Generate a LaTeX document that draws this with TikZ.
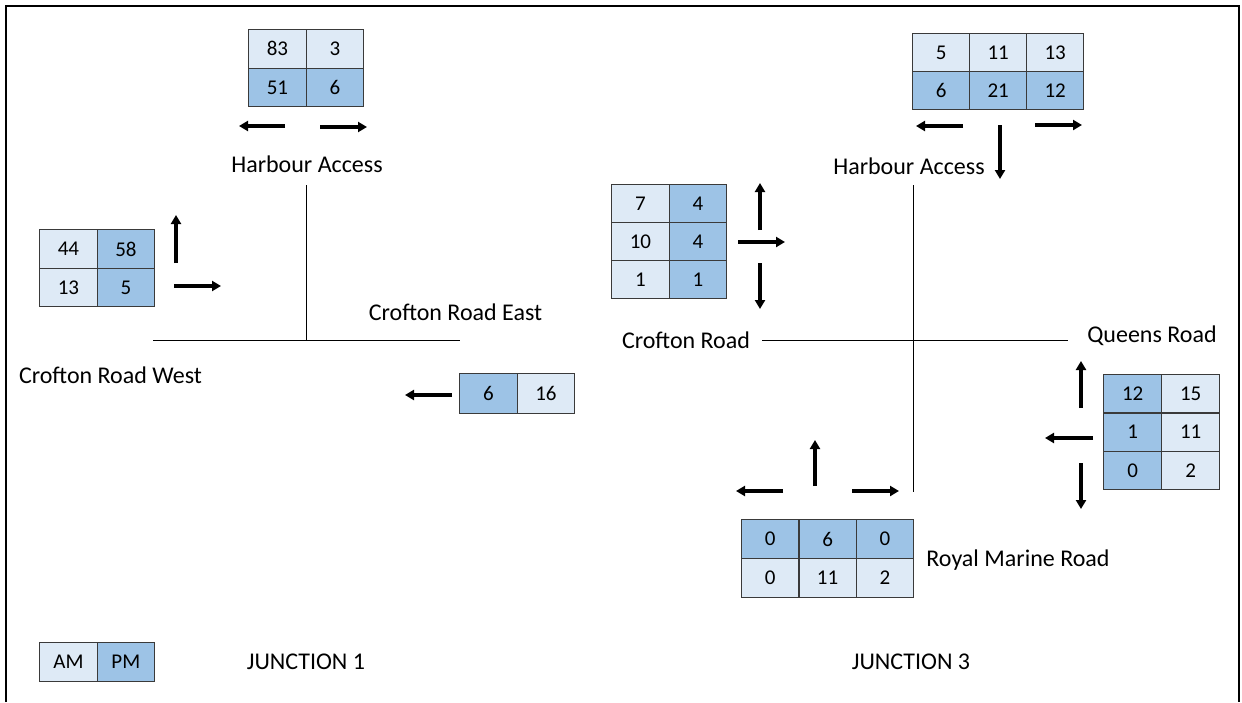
\documentclass[tikz,border=0pt]{standalone}
\usepackage{fontspec}
\setmainfont{Carlito}
\usetikzlibrary{arrows.meta}
\definecolor{amfill}{HTML}{DEEAF6}
\definecolor{pmfill}{HTML}{9DC3E6}
\definecolor{gridline}{HTML}{3A3A3A}
\begin{document}
\begin{tikzpicture}[x=1pt,y=-1pt,
  cellbase/.style={draw=gridline, line width=1.3pt, anchor=north west,
    minimum width=57.5pt, minimum height=38.5pt, inner sep=0pt,
    font=\fontsize{21}{25}\selectfont},
  am/.style={cellbase, fill=amfill},
  pm/.style={cellbase, fill=pmfill},
  road/.style={line width=1pt},
  flow/.style={line width=3.2pt, -{Triangle[length=9pt,width=10pt]}},
  lbl/.style={font=\fontsize{24}{29}\selectfont, inner sep=0pt}]
\useasboundingbox (0,0) rectangle (1242,702);
% outer frame, open at the bottom
\draw[line width=2pt] (6,702) -- (6,6) -- (1239,6) -- (1239,702);

% ---------------- Junction 1 ----------------
% Harbour Access counts
\node[am] (ha1a) at (248,29) {83};
\node[am] (ha1b) at (305.5,29) {3};
\node[pm] (ha1c) at (248,67.5) {51};
\node[pm] (ha1d) at (305.5,67.5) {6};
\draw[flow] (285,126) -- (239,126);
\draw[flow] (320,127) -- (367,127);
\node[lbl] (ha1) at (307,164) {Harbour Access};

% Crofton Road West counts
\node[am] (cw1a) at (39,229) {44};
\node[pm] (cw1b) at (96.5,229) {58};
\node[am] (cw1c) at (39,267.5) {13};
\node[pm] (cw1d) at (96.5,267.5) {5};
\draw[flow] (176,263) -- (176,215);
\draw[flow] (174,286) -- (221,286);
\node[lbl] (cw1) at (110.5,375) {Crofton Road West};

% Crofton Road East counts
\node[pm, minimum height=40pt] (ce1a) at (459,373) {6};
\node[am, minimum height=40pt] (ce1b) at (516.5,373) {16};
\draw[flow] (452,395) -- (405,395);
\node[lbl] (ce1) at (455.5,312) {Crofton Road East};

% roads
\coordinate (j1top) at (306,185);
\coordinate (j1mid) at (306,340);
\coordinate (j1west) at (153,340);
\coordinate (j1east) at (460,340);
\draw[road] (j1top) -- (j1mid);
\draw[road] (j1west) -- (j1east);

% legend and title
\node[am] (legam) at (39,642) {AM};
\node[pm] (legpm) at (96.5,642) {PM};
\node[lbl] (t1) at (306,662) {JUNCTION 1};

% ---------------- Junction 3 ----------------
% Harbour Access counts
\node[am, minimum width=57pt, minimum height=38pt] (ha3a) at (912,33) {5};
\node[am, minimum width=57pt, minimum height=38pt] (ha3b) at (969,33) {11};
\node[am, minimum width=57pt, minimum height=38pt] (ha3c) at (1026,33) {13};
\node[pm, minimum width=57pt, minimum height=38pt] (ha3d) at (912,71) {6};
\node[pm, minimum width=57pt, minimum height=38pt] (ha3e) at (969,71) {21};
\node[pm, minimum width=57pt, minimum height=38pt] (ha3f) at (1026,71) {12};
\draw[flow] (963,126) -- (916,126);
\draw[flow] (1035,125) -- (1082,125);
\draw[flow] (1000,125) -- (1000,179);
\node[lbl] (ha3) at (909,166) {Harbour Access};

% Crofton Road counts
\node[am, minimum height=38pt] (cr3a) at (611,184) {7};
\node[pm, minimum height=38pt] (cr3b) at (668.5,184) {4};
\node[am, minimum height=38pt] (cr3c) at (611,222) {10};
\node[pm, minimum height=38pt] (cr3d) at (668.5,222) {4};
\node[am, minimum height=38pt] (cr3e) at (611,260) {1};
\node[pm, minimum height=38pt] (cr3f) at (668.5,260) {1};
\draw[flow] (760,230) -- (760,183);
\draw[flow] (738,242) -- (785,242);
\draw[flow] (760,263) -- (760,309);
\node[lbl] (cr3) at (686,340) {Crofton Road};

% Queens Road counts
\node[pm, minimum width=58pt, minimum height=38.3pt] (qr3a) at (1103,374) {12};
\node[am, minimum width=58pt, minimum height=38.3pt] (qr3b) at (1161,374) {15};
\node[pm, minimum width=58pt, minimum height=38.3pt] (qr3c) at (1103,412.3) {1};
\node[am, minimum width=58pt, minimum height=38.3pt] (qr3d) at (1161,412.3) {11};
\node[pm, minimum width=58pt, minimum height=38.3pt] (qr3e) at (1103,450.6) {0};
\node[am, minimum width=58pt, minimum height=38.3pt] (qr3f) at (1161,450.6) {2};
\draw[flow] (1081,408) -- (1081,361);
\draw[flow] (1093,438) -- (1045,438);
\draw[flow] (1081,463) -- (1081,509);
\node[lbl] (qr3) at (1152,336) {Queens Road};

% Royal Marine Road counts
\node[pm, minimum width=57.3pt, minimum height=39pt] (rm3a) at (741,519) {0};
\node[pm, minimum width=57.3pt, minimum height=39pt] (rm3b) at (798.3,519) {6};
\node[pm, minimum width=57.3pt, minimum height=39pt] (rm3c) at (855.6,519) {0};
\node[am, minimum width=57.3pt, minimum height=39pt] (rm3d) at (741,558) {0};
\node[am, minimum width=57.3pt, minimum height=39pt] (rm3e) at (798.3,558) {11};
\node[am, minimum width=57.3pt, minimum height=39pt] (rm3f) at (855.6,558) {2};
\draw[flow] (783,491) -- (736,491);
\draw[flow] (815,486) -- (815,440);
\draw[flow] (852,491) -- (899,491);
\node[lbl] (rm3) at (1018,560) {Royal Marine Road};

% roads
\coordinate (j3top) at (913,185);
\coordinate (j3bot) at (913,492);
\coordinate (j3west) at (762,340);
\coordinate (j3east) at (1068,340);
\draw[road] (j3top) -- (j3bot);
\draw[road] (j3west) -- (j3east);

\node[lbl] (t3) at (911,662) {JUNCTION 3};
\end{tikzpicture}
\end{document}
